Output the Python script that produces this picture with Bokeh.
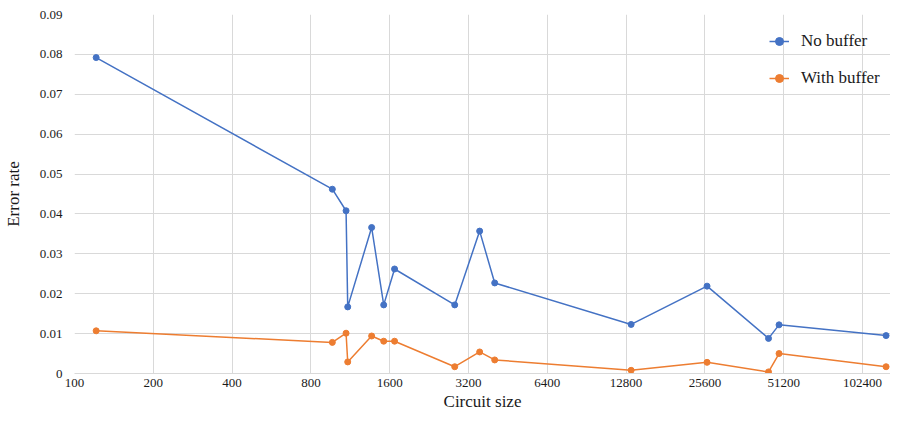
from bokeh.plotting import figure
from bokeh.models import FixedTicker, CustomJSTickFormatter, Legend, LegendItem, Range1d
from bokeh.embed import file_html
from bokeh.resources import INLINE

# Data
circuit_size = [121, 966, 1090, 1106, 1365, 1518, 1670, 2835, 3530, 4030, 13380, 26090, 44800, 49150, 126000]
no_buffer = [0.0792, 0.0462, 0.0408, 0.0167, 0.0366, 0.0172, 0.0262, 0.0172, 0.0357, 0.0227, 0.0123, 0.0219, 0.0088, 0.0122, 0.0095]
with_buffer = [0.0107, 0.0078, 0.0101, 0.0029, 0.0094, 0.0081, 0.0081, 0.0017, 0.0054, 0.0034, 0.0008, 0.0028, 0.0004, 0.0050, 0.0017]
x_ticks = [100, 200, 400, 800, 1600, 3200, 6400, 12800, 25600, 51200, 102400]
y_ticks = [0, 0.01, 0.02, 0.03, 0.04, 0.05, 0.06, 0.07, 0.08, 0.09]

BLUE = "#4472C4"
ORANGE = "#ED7D31"
FONT = "Liberation Serif"
GRID = "#d9d9d9"
TEXT = "#1a1a1a"

p = figure(width=890, height=413, x_axis_type="log", output_backend="svg",
           toolbar_location=None, x_range=Range1d(100, 131000), y_range=Range1d(0, 0.09),
           min_border_left=70, min_border_right=0, min_border_top=14, min_border_bottom=0)
p.outline_line_color = None

r1l = p.line(circuit_size, no_buffer, line_color=BLUE, line_width=1.5)
r1s = p.scatter(circuit_size, no_buffer, size=6, fill_color=BLUE, line_color=BLUE)
r2l = p.line(circuit_size, with_buffer, line_color=ORANGE, line_width=1.5)
r2s = p.scatter(circuit_size, with_buffer, size=6, fill_color=ORANGE, line_color=ORANGE)

p.xaxis.ticker = FixedTicker(ticks=x_ticks, minor_ticks=[])
p.xaxis.formatter = CustomJSTickFormatter(code="return Math.round(tick).toString();")
p.yaxis.ticker = FixedTicker(ticks=y_ticks, minor_ticks=[])
p.yaxis.formatter = CustomJSTickFormatter(code="return tick == 0 ? '0' : tick.toFixed(2);")

for ax in (p.xaxis[0], p.yaxis[0]):
    ax.major_tick_line_color = None
    ax.minor_tick_line_color = None
    ax.major_tick_out = 0
    ax.major_tick_in = 0
    ax.major_label_text_font = FONT
    ax.major_label_text_font_size = "13px"
    ax.major_label_text_color = TEXT
    ax.axis_label_text_font = FONT
    ax.axis_label_text_font_size = "17px"
    ax.axis_label_text_font_style = "normal"
    ax.axis_label_text_color = TEXT

p.xaxis.axis_line_color = GRID
p.yaxis.axis_line_color = None
p.xaxis.axis_label = "Circuit size"
p.yaxis.axis_label = "Error rate"
p.xaxis.major_label_standoff = 5
p.yaxis.major_label_standoff = 12
p.xaxis.axis_label_standoff = 2
p.yaxis.axis_label_standoff = 14

p.xgrid.grid_line_color = GRID
p.ygrid.grid_line_color = GRID
p.xgrid.grid_line_width = 1
p.ygrid.grid_line_width = 1

legend = Legend(items=[LegendItem(label="No buffer", renderers=[r1l, r1s]),
                       LegendItem(label="With buffer", renderers=[r2l, r2s])],
                location=(695, 285))
legend.border_line_color = None
legend.background_fill_alpha = 0
legend.label_text_font = FONT
legend.label_text_font_size = "17px"
legend.label_text_color = TEXT
legend.glyph_width = 20
legend.label_height = 20
legend.spacing = 17
legend.padding = 10
legend.margin = 0
legend.label_standoff = 12
p.add_layout(legend)

open("out.html", "w").write(file_html(p, INLINE))
